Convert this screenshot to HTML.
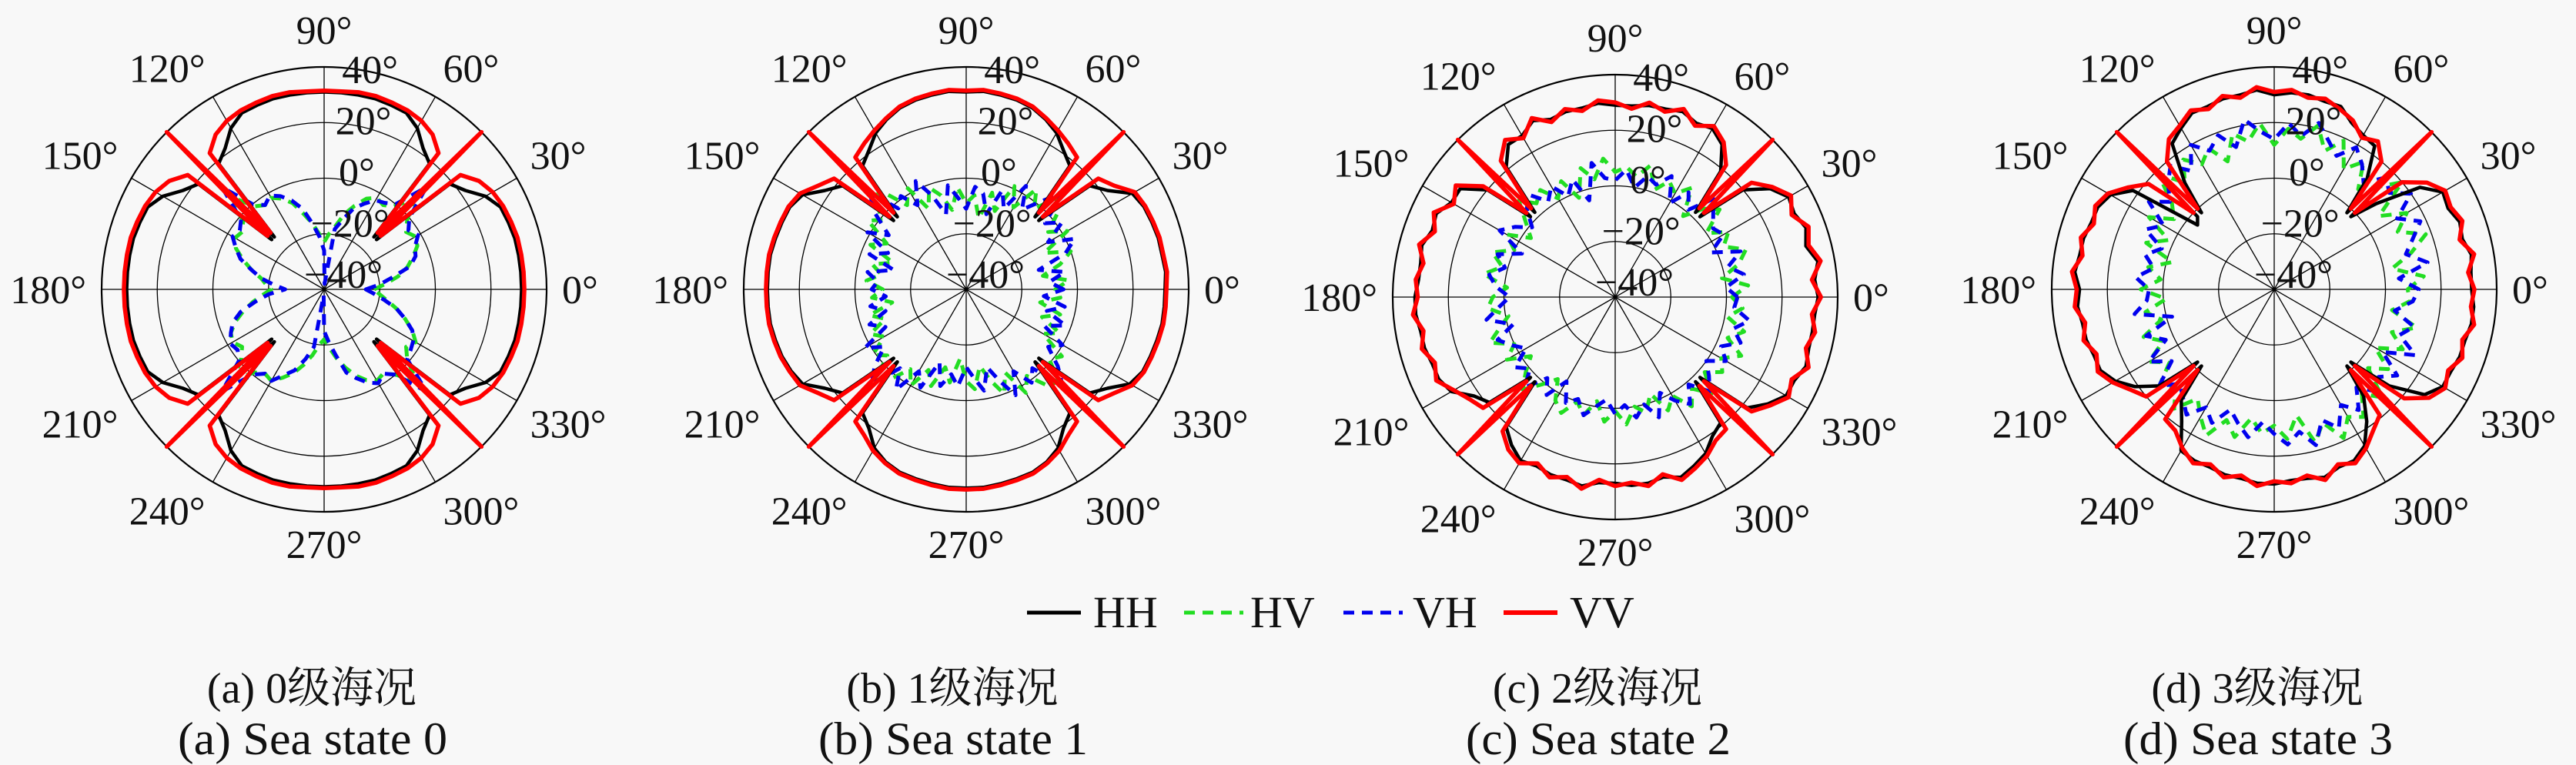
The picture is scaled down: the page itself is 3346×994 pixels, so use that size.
<!DOCTYPE html>
<html><head><meta charset="utf-8">
<style>
html,body{margin:0;padding:0;background:#f8f8f8;}
svg{display:block;}
svg text{font-family:"Liberation Serif","DejaVu Serif","Times New Roman","Noto Serif CJK SC",serif;fill:#111;}
</style></head>
<body>
<svg id="fig" width="3346" height="994" viewBox="0 0 3346 994" xmlns="http://www.w3.org/2000/svg">
<rect width="3346" height="994" fill="#f8f8f8"/>
<g id="plots"></g>
<g id="legend">
  <line x1="1334" y1="796" x2="1404" y2="796" stroke="#000" stroke-width="5"/>
  <text x="1420" y="815" font-size="58">HH</text>
  <line x1="1538" y1="796" x2="1615" y2="796" stroke="#22dd22" stroke-width="5" stroke-dasharray="14,10"/>
  <text x="1624" y="815" font-size="58">HV</text>
  <line x1="1745" y1="796" x2="1822" y2="796" stroke="#0000ee" stroke-width="5" stroke-dasharray="14,10"/>
  <text x="1835" y="815" font-size="58">VH</text>
  <line x1="1953" y1="796" x2="2023" y2="796" stroke="#ff0000" stroke-width="6"/>
  <text x="2039" y="815" font-size="58">VV</text>
</g>
<g id="captions">
  <text x="405" y="913" font-size="56" text-anchor="middle">(a) 0级海况</text>
  <text x="406" y="980" font-size="60" text-anchor="middle" textLength="350" lengthAdjust="spacingAndGlyphs">(a) Sea state 0</text>
  <text x="1237" y="913" font-size="56" text-anchor="middle">(b) 1级海况</text>
  <text x="1238" y="980" font-size="60" text-anchor="middle" textLength="350" lengthAdjust="spacingAndGlyphs">(b) Sea state 1</text>
  <text x="2075" y="913" font-size="56" text-anchor="middle">(c) 2级海况</text>
  <text x="2076" y="980" font-size="60" text-anchor="middle" textLength="344" lengthAdjust="spacingAndGlyphs">(c) Sea state 2</text>
  <text x="2932" y="913" font-size="56" text-anchor="middle">(d) 3级海况</text>
  <text x="2933" y="980" font-size="60" text-anchor="middle" textLength="350" lengthAdjust="spacingAndGlyphs">(d) Sea state 3</text>
</g>
</svg>
<script>
// ---- data (dB), angles 0..355 step 5 ----
const angles = Array.from({length:72},(_, i)=>i*5);
const rTicks = [-40,-20,0,20,40];
const rTickLabels = ["\u221240°","\u221220°","0°","20°","40°"];
const thetaTicks = [0,30,60,90,120,150,180,210,240,270,300,330];
const thetaTickLabels = ["0°","30°","60°","90°","120°","150°","180°","210°","240°","270°","300°","330°"];
const seriesNames = ["HV","VH","HH","VV"];
const spikeAngles = [45,135,225,315];
const spikeBaseVV = [-12,-2,4,0];
const spikeBaseHH = [-14,-4,2,-2];

const vvA = [32,32,32,32,31.5,31,30,28,24,40,24,28,30,31,31.5,32,32,31.5,31.5,
 31.5,32,32,31.5,31,30,28,24,40,24,28,30,31,31.5,32,32,32,32,
 32,32,32,31.5,31,30,28,24,40,24,28,30,31,31.5,32,32,31.5,31.5,
 31.5,32,32,31.5,31,30,28,24,40,24,28,30,31,31.5,32,32,32];
const hhA = [31,31,31,31,30.5,30,27,22,19,38,19,22,27,30,30.5,31,31,31,31,
 31,31,31,30.5,30,27,22,19,38,19,22,27,30,30.5,31,31,31,31,
 31,31,31,30.5,30,27,22,19,38,19,22,27,30,30.5,31,31,31,31,
 31,31,31,30.5,30,27,22,19,38,19,22,27,30,30.5,31,31,31];
const hvA = [-22,-18,-13,-9,-6,-3,-2,-4,-1,6,-1,-3,-2,-4,-8,-12,-17,-20,-23,
 -20,-16,-12,-7,-4,-2,-3,-1,7,-2,-4,-3,-5,-9,-13,-17,-19,-21,
 -18,-14,-10,-6,-3,-2,-4,-1,6,-1,-3,-2,-5,-8,-12,-16,-20,-22,
 -19,-15,-11,-7,-4,-2,-3,0,7,-1,-4,-2,-5,-9,-13,-17,-20];
const vhA = [-25,-20,-15,-8,-5,-4,-1,-3,0,12,0,-2,-3,-6,-9,-14,-18,-38,-26,
 -21,-16,-10,-6,-3,-1,-3,0,12,-1,-3,-2,-5,-8,-13,-17,-22,-26,
 -20,-15,-9,-5,-3,-1,-2,0,12,0,-3,-2,-6,-9,-14,-19,-38,-25,
 -21,-16,-9,-6,-3,-1,-3,0,12,-1,-2,-3,-5,-9,-13,-18,-22];

const vvB = [32,32.5,32,32,31.5,31,30,25,22,40,22,24,26,28,30,31,31.5,32,31.5,
 32,31.5,31,30,28,26,24,22,40,22,25,29,30.5,31,31.5,32,32,32,
 32,32,31.5,31,30,29,25,22,40,22,24,27,29,30.5,31,31.5,32,32,
 32,31.5,31,30.5,29,27,24,22,40,22,25,29,30.5,31,31.5,32,32];
const hhB = [31.5,32,31.5,31.5,31,30.5,29,22,18,39,18,21,25,27.5,29.5,30.5,31,31.5,31,
 31.5,31,30.5,29.5,27.5,25,21,18,39,18,22,28,30,30.5,31,31.5,31.5,31.5,
 31.5,31.5,31,30.5,29.5,28,22,18,39,18,21,26,28.5,30,30.5,31,31.5,31.5,
 31.5,31,30.5,30,28.5,26,21,18,39,18,22,28,30,30.5,31,31.5,31.5];
const hvB = [-8,-3,-12,-5,0,-9,2,-4,3,6,-2,4,-6,1,-10,-4,-14,-6,-9,
 -3,-11,-5,-1,-8,2,-3,5,8,-1,3,-7,-2,-12,-5,-9,-4,-10,
 -6,-13,-4,-9,-2,-6,1,-3,6,2,-5,0,-8,-3,-11,-6,-15,-7,
 -4,-12,-6,0,-7,3,-2,5,7,-1,2,-8,-3,-11,-5,-13,-6];
const vhB = [-5,-10,-4,-13,-2,3,-6,2,-3,9,1,-5,3,-8,-2,-12,-5,-3,-11,
 -7,-2,-12,-4,3,-5,1,-2,9,3,-6,1,-9,-3,-13,-4,-8,-6,
 -11,-5,-10,-3,-8,2,-4,3,8,-3,4,-6,-1,-12,-4,-9,-5,-12,
 -8,-3,-11,-5,2,-6,1,-3,9,3,-4,0,-9,-2,-10,-4,-12];

const vvC = [34,31,35,32,34,30,33,29,24,40,22,28,31,28,32,29,31,28,30,
 31,28,30,27,31,26,29,24,40,22,30,27,32,29,33,30,32,31,
 33,30,32,29,31,27,24,22,40,23,27,29,26,29,27,30,26,28,
 27,29,26,30,28,26,23,22,40,24,28,32,30,34,31,33,31];
const hhC = [33,32,34,31,33,31,32,28,20,38,19,27,30,29,31,30,30,29,29,
 30,29,29,28,30,27,27,21,38,20,28,28,31,30,32,31,31,32,
 32,31,31,30,30,28,22,19,38,21,25,28,27,28,28,29,27,27,
 28,28,27,29,27,25,21,19,38,22,27,31,31,33,32,32,32];
const hvC = [2,8,-1,6,10,3,7,0,9,5,-2,8,3,6,1,9,4,7,5,
 10,3,8,-2,6,1,7,4,9,2,-3,5,0,7,2,8,-1,4,
 6,-1,3,8,0,5,-3,2,7,1,-4,3,6,0,4,-2,5,1,
 6,0,3,-3,5,1,8,3,9,2,7,4,10,3,8,1,6];
const vhC = [4,0,7,2,8,-2,5,3,6,10,1,6,-1,8,3,5,0,6,2,
 3,9,-4,5,0,6,2,8,5,-1,4,8,-3,5,1,6,3,-2,
 2,7,-2,5,1,-3,4,0,6,-2,3,-5,2,-1,4,0,-3,2,
 -1,4,0,6,-2,3,7,1,8,4,0,6,2,8,4,9,3];

const vvD = [32,30,33,29,32,30,31,27,20,40,20,25,23,27,29,31,30,32,31,
 33,30,32,29,31,28,26,20,40,19,24,29,31,29,32,30,33,31,
 32,29,31,28,30,27,23,20,40,21,22,26,29,27,30,28,31,29,
 30,28,31,27,29,26,22,19,40,21,28,31,29,32,30,33,31];
const hhD = [31,31,32,30,31,29,30,24,8,38,12,23,24,26,30,30,31,31,30,
 32,31,31,30,30,27,24,10,38,-4,22,28,30,30,31,31,32,30,
 31,30,30,29,29,26,21,14,38,12,18,27,28,28,29,29,30,30,
 29,29,30,28,28,25,18,10,38,14,26,30,30,31,31,32,32];
const hvD = [8,14,3,11,18,9,15,6,20,12,7,16,10,19,13,21,15,18,12,
 20,14,18,9,16,12,17,10,19,8,4,12,2,9,-2,6,1,8,
 -1,7,2,10,4,12,6,14,10,16,8,13,18,10,15,7,12,9,
 14,6,17,11,19,13,16,9,15,4,10,2,11,5,13,3,9];
const vhD = [12,5,16,9,13,18,11,20,14,17,10,15,19,13,17,22,16,20,14,
 17,22,13,19,15,20,12,18,14,9,15,6,11,3,8,4,10,5,
 6,11,-2,9,3,12,5,14,8,11,15,9,13,6,10,14,8,12,
 16,12,18,10,15,8,13,6,12,9,14,5,16,8,12,4,10];

const panelIds = ["a","b","c","d"];
const panelCx = [421,1255,2098,2954];
const panelCy = [376,376,386,376];
const panelData = [
  {HV:hvA,VH:vhA,HH:hhA,VV:vvA},
  {HV:hvB,VH:vhB,HH:hhB,VV:vvB},
  {HV:hvC,VH:vhC,HH:hhC,VV:vvC},
  {HV:hvD,VH:vhD,HH:hhD,VV:vvD}
];

const NS = "http://www.w3.org/2000/svg";
const R = 289, RMIN = -40, RMAX = 40;
const styles = {
  HV:{stroke:"#22dd22",w:5,dash:"14,10"},
  VH:{stroke:"#0000ee",w:5,dash:"14,10"},
  HH:{stroke:"#000000",w:4.5,dash:null},
  VV:{stroke:"#ff0000",w:5.5,dash:null}
};
function rScale(v){ return (v-RMIN)/(RMAX-RMIN)*R; }
function px(cx,deg,r){ return cx + r*Math.cos(deg*Math.PI/180); }
function py(cy,deg,r){ return cy - r*Math.sin(deg*Math.PI/180); }
function mk(tag, attrs){ const e=document.createElementNS(NS,tag); for(const k in attrs) e.setAttribute(k,attrs[k]); return e; }

const root = document.getElementById("plots");
panelIds.forEach((id,pi)=>{
  const cx=panelCx[pi], cy=panelCy[pi];
  const g = mk("g",{});
  
  
  root.appendChild(g);
  rTicks.forEach((t,i)=>{
    const r=rScale(t);
    if(r<=0) return;
    const c = mk("circle",{cx:cx,cy:cy,r:r,fill:"none",stroke:"#000","stroke-width":(i===rTicks.length-1?2.2:1.3)});
    
    
    g.appendChild(c);
  });
  thetaTicks.forEach(t=>{
    const l = mk("line",{x1:cx,y1:cy,x2:px(cx,t,R),y2:py(cy,t,R),stroke:"#000","stroke-width":1.3});
    
    
    g.appendChild(l);
  });
  seriesNames.forEach(s=>{
    const vals = panelData[pi][s];
    const base = s==="VV"?spikeBaseVV[pi]:(s==="HH"?spikeBaseHH[pi]:null);
    const pts=[];
    vals.forEach((v,i)=>{
      const a=angles[i];
      if(base!==null && spikeAngles.indexOf(a)>=0){
        pts.push([a-1.5,base]); pts.push([a,v]); pts.push([a+1.5,base]);
      } else pts.push([a,v]);
    });
    let d="";
    pts.forEach((p,i)=>{
      const r=rScale(p[1]);
      d += (i?"L":"M")+px(cx,p[0],r).toFixed(1)+","+py(cy,p[0],r).toFixed(1);
    });
    d+="Z";
    const st=styles[s];
    const p = mk("path",{d:d,fill:"none",stroke:st.stroke,"stroke-width":st.w,"stroke-linejoin":"round"});
    if(st.dash) p.setAttribute("stroke-dasharray",st.dash);
    
    
    g.appendChild(p);
  });
  thetaTicks.forEach((t,i)=>{
    const c=Math.cos(t*Math.PI/180), sn=Math.sin(t*Math.PI/180);
    let rr = R+20;
    let anchor = c>0.3?"start":(c<-0.3?"end":"middle");
    if(anchor==="middle") rr = R+22;
    const x=px(cx,t,rr); let y=py(cy,t,rr);
    if(sn>0.3) y += (anchor==="middle"? -8 : -2);
    else if(sn<-0.3) y += 38;
    else y += 18;
    const tx = mk("text",{x:x,y:y,"font-size":52,"text-anchor":anchor});
    tx.textContent = thetaTickLabels[i];
    
    
    g.appendChild(tx);
  });
  rTicks.forEach((t,i)=>{
    const r=rScale(t);
    const x = cx + 25 + 0.12*r;
    const y = cy - (0.92*r + 20) + 18;
    const tx = mk("text",{x:x,y:y,"font-size":52,"text-anchor":"middle"});
    tx.textContent = rTickLabels[i];
    
    
    g.appendChild(tx);
  });
});
</script>
</body></html>
